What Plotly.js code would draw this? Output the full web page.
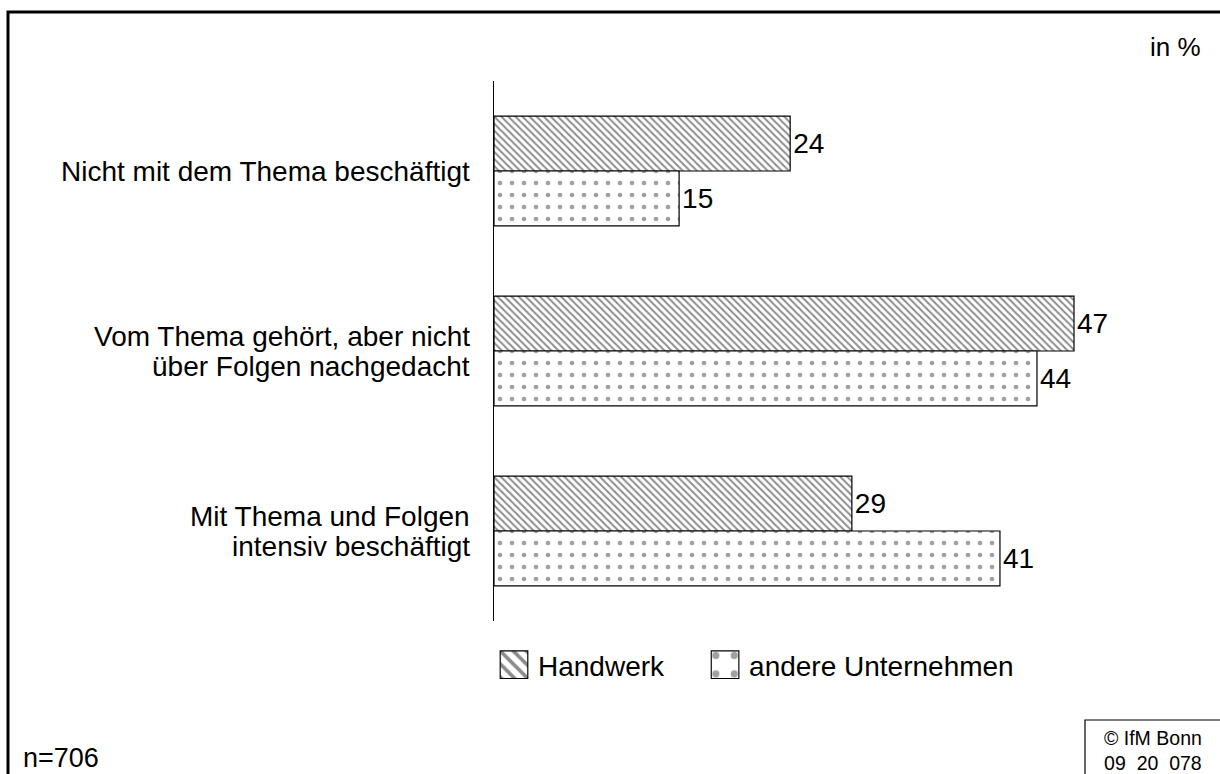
<!DOCTYPE html>
<html><head><meta charset="utf-8">
<script src="https://cdn.plot.ly/plotly-3.0.1.min.js"></script>
<style>html,body{margin:0;padding:0;background:#fff}#chart{width:1220px;height:774px}</style>
</head><body><div id="chart"></div>
<script>
const categoryLines = [["Nicht mit dem Thema beschäftigt"], ["Vom Thema gehört, aber nicht", "über Folgen nachgedacht"], ["Mit Thema und Folgen", "intensiv beschäftigt"]];
const categories = categoryLines.map(l => l.join(" "));
const seriesNames = ["Handwerk", "andere Unternehmen"];
const handwerk = [24, 47, 29];
const andere = [15, 44, 41];

const L = 494, R = 1180, T = 81, B = 621, W = 1220, H = 774;
const pw = R - L, ph = B - T;
const px = x => (x - L) / pw;
const py = y => (B - y) / ph;
const font = "Liberation Sans, Arial, sans-serif";
const FS = 28;

const traces = [
  {type: 'bar', orientation: 'h', name: seriesNames[0], y: categories, x: handwerk,
   text: handwerk.map(String), textposition: 'outside', cliponaxis: false,
   textfont: {size: FS, color: '#000', family: font},
   marker: {color: '#fff', line: {color: '#000', width: 1.2},
            pattern: {shape: '\\', fgcolor: '#8c8c8c', bgcolor: '#fff', size: 5, solidity: 0.4}}},
  {type: 'bar', orientation: 'h', name: seriesNames[1], y: categories, x: andere,
   text: andere.map(String), textposition: 'outside', cliponaxis: false,
   textfont: {size: FS, color: '#000', family: font},
   marker: {color: '#fff', line: {color: '#000', width: 1.2},
            pattern: {shape: '.', fgcolor: '#a0a0a0', bgcolor: '#fff', size: 12, solidity: 0.12}}}
];

const annotations = [
  {text: 'in %', xref: 'paper', yref: 'paper', x: px(1203), y: py(47), xanchor: 'right', yanchor: 'middle',
   showarrow: false, font: {size: 26, family: font}},
  {text: 'n=706', xref: 'paper', yref: 'paper', x: px(21), y: py(758), xanchor: 'left', yanchor: 'middle',
   showarrow: false, font: {size: 27, family: font}},
  {text: '© IfM Bonn<br>09  20  078', xref: 'paper', yref: 'paper', x: px(1153), y: py(750), xanchor: 'center', yanchor: 'middle',
   showarrow: false, font: {size: 19.5, family: font}}
];
categoryLines.forEach((lines, i) => {
  const n = lines.length;
  lines.forEach((line, j) => {
    annotations.push({text: line, xref: 'paper', yref: 'y', x: px(472), y: categories[i],
      xanchor: 'right', yanchor: 'middle', showarrow: false,
      yshift: ((n - 1) / 2 - j) * 30, font: {size: FS, family: font, color: '#000'}});
  });
});

const layout = {
  width: W, height: H,
  margin: {l: L, r: W - R, t: T, b: H - B, pad: 0},
  paper_bgcolor: '#fff', plot_bgcolor: '#fff',
  font: {family: font, size: FS, color: '#000'},
  barmode: 'group', bargap: 0.39, bargroupgap: 0,
  showlegend: true,
  legend: {orientation: 'h', x: px(490), xanchor: 'left', y: py(665), yanchor: 'middle',
           font: {size: FS, family: font}, itemwidth: 38, traceorder: 'normal',
           bgcolor: 'rgba(0,0,0,0)'},
  xaxis: {range: [0, pw / (580 / 47)], visible: false, showgrid: false, zeroline: false, fixedrange: true},
  yaxis: {autorange: 'reversed', showline: true, linecolor: '#000', linewidth: 1.5,
          ticks: '', showgrid: false, zeroline: false, showticklabels: false},
  shapes: [
    {type: 'rect', xref: 'paper', yref: 'paper', x0: px(8), x1: px(1230), y0: py(12), y1: py(790),
     line: {color: '#000', width: 3}, fillcolor: 'rgba(0,0,0,0)'},
    {type: 'rect', xref: 'paper', yref: 'paper', x0: px(1085), x1: px(1230), y0: py(720), y1: py(790),
     line: {color: '#000', width: 1.2}, fillcolor: 'rgba(0,0,0,0)'}
  ],
  annotations: annotations
};

Plotly.newPlot('chart', traces, layout, {displayModeBar: false, staticPlot: true}).then(gd => {
  // enlarge the legend swatches (scale each swatch path about its own centre)
  gd.querySelectorAll('.legend .traces .legendpoints path').forEach(p => {
    const t = p.getAttribute('transform') || '';
    p.setAttribute('transform', t + ' scale(2.3)');
    p.style.strokeWidth = '0.5px';
  });
  // widen the gap between the two legend entries as in the reference
  gd.querySelectorAll('.legend [clip-path]').forEach(el => el.removeAttribute('clip-path'));
  const items = gd.querySelectorAll('.legend .traces');
  if (items.length > 1) {
    const g = items[1];
    const t = g.getAttribute('transform') || '';
    g.setAttribute('transform', t + ' translate(31,0)');
  }
});
</script></body></html>
